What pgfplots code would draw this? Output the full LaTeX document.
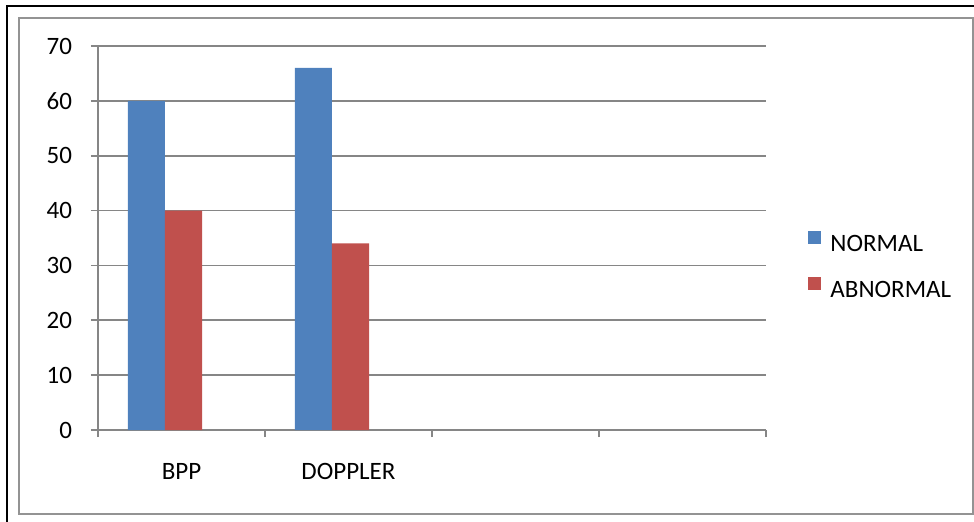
\documentclass[border=0pt]{standalone}
\usepackage{pgfplots}
\pgfplotsset{compat=1.18}
\usepackage{fontspec}
\setmainfont{Carlito}
\definecolor{barblue}{RGB}{79,129,189}
\definecolor{barred}{RGB}{192,80,77}
\definecolor{axgray}{RGB}{134,134,134}
\begin{document}
\begin{tikzpicture}
\useasboundingbox (-49pt,-45.5pt) rectangle (438pt,215pt);
\begin{axis}[
  at={(0pt,0pt)}, anchor=south west,
  scale only axis, width=334pt, height=192pt,
  xmin=-0.5, xmax=3.5, ymin=0, ymax=70,
  axis x line=bottom, axis y line=left,
  axis line style={-, draw=axgray, line width=1pt},
  tick align=outside, major tick length=3.5pt,
  tick style={draw=axgray, line width=0.8pt},
  xtick={-0.5,0.5,1.5,2.5,3.5}, xticklabels={},
  extra x ticks={0,1}, extra x tick labels={BPP,DOPPLER},
  extra x tick style={major tick length=0pt, tick style={draw=none}, xticklabel style={yshift=-13pt}},
  ytick={0,10,...,70},
  ymajorgrids, grid style={draw=axgray, line width=0.9pt},
  yticklabel style={xshift=-6pt},
  /pgf/number format/assume math mode=true,
  ticklabel style={font=\fontsize{12.5}{15}\selectfont},
  legend style={draw=none, fill=none, at={(1.054,0.432)}, anchor=west,
    font=\fontsize{12.5}{15}\selectfont,
    nodes={inner sep=0pt, text height=8.5pt, text depth=0pt},
    row sep=12.5pt},
  legend cell align=left,
  legend image code/.code={\fill[#1,draw=none] (0pt,-0.5pt) rectangle (6.5pt,6pt);},
]
\addplot[ybar, bar width=0.222, bar shift=-0.21, fill=barblue, draw=none] coordinates {(0,60) (1,66)};
\addlegendentry{\hspace{4.5pt}NORMAL}
\addplot[ybar, bar width=0.222, bar shift=0.012, fill=barred, draw=none] coordinates {(0,40) (1,34)};
\addlegendentry{\hspace{4.5pt}ABNORMAL}
\end{axis}
\draw[black, line width=1.2pt] (-45.5pt,-46pt) -- (-45.5pt,212pt) -- (439pt,212pt);
\draw[gray!85, line width=0.8pt] (-39.5pt,-42pt) rectangle (437.5pt,206pt);
\end{tikzpicture}
\end{document}
